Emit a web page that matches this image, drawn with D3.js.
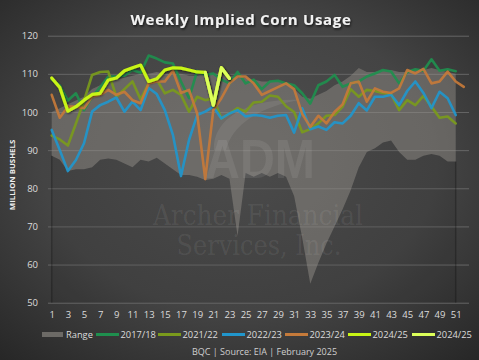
<!DOCTYPE html>
<html><head><meta charset="utf-8">
<script src="https://cdn.jsdelivr.net/npm/d3@7"></script>
<style>html,body{margin:0;padding:0;background:#333;}svg{display:block;}</style>
</head><body>
<svg id="chart" width="479" height="360"></svg>
<script>
// ---- DATA ----
const weeks = d3.range(1, 53);
const xTickLabels = d3.range(1, 52, 2);
const yTickLabels = [50, 60, 70, 80, 90, 100, 110, 120];
const seriesNames = ["Range", "2017/18", "2021/22", "2022/23", "2023/24", "2024/25", "2024/25"];

const rangeMin = [88.5, 87.5, 84.5, 85, 85, 85.5, 87.5, 87.8, 87.5, 86.5, 85.5, 87.5, 87, 88, 86.5, 85, 83.5, 83.5, 83, 82.2, 82.5, 83.5, 82.5, 67.5, 84, 83, 84, 83, 84, 83, 78, 67, 55, 60.5, 65.5, 70, 74.5, 79.5, 85.5, 89.5, 90.5, 92, 92.5, 89.5, 87.5, 87.5, 88.5, 89, 88.5, 87, 87];
const rangeMax = [100, 101, 102, 103, 104, 106, 107, 108, 108.5, 109, 109.5, 110, 110, 110.5, 110, 110, 110, 109.5, 109.5, 110, 110, 110, 109.5, 109, 109, 108.5, 108, 108, 108, 107.5, 106, 104, 103.5, 104.5, 105.5, 107, 108, 109.5, 111.5, 110.5, 110.5, 111, 111, 110.5, 110.5, 111, 111, 111.5, 111, 110.5, 110];

const s2017 = [108.5, 107, 103, 104.9, 100.5, 104, 106.5, 109.3, 109.3, 109.5, 111, 110.3, 114.8, 114, 113, 112.7, 108, 103.6, 110.8, 109.7, 110.1, 108.5, 107.5, 110.5, 107.5, 108.5, 106, 108, 108.2, 107.5, 107, 104.9, 102.2, 107, 108, 109.7, 106.6, 107.5, 108, 109.3, 110.1, 111, 110.6, 107.5, 110.5, 111.2, 110.8, 113.8, 110.8, 111.2, 110.7];
const s2021 = [93.8, 92.8, 91.2, 97, 103, 109.7, 110.5, 110.6, 104, 106, 108, 103.3, 107.5, 108.5, 104.9, 105.8, 104.5, 100.1, 104, 103.1, 103.6, 98.3, 99.6, 101, 100.1, 102.5, 102.7, 104.3, 104, 101.5, 100, 94.7, 95.5, 97, 99, 99.2, 101.4, 106, 104, 105.8, 105.5, 105, 104.7, 100.5, 103.1, 101.8, 104.2, 101.4, 98.5, 98.8, 97];
const s2022 = [95.3, 90, 84.5, 87.4, 91.8, 100.1, 101.8, 102.7, 103.8, 100.1, 102.7, 100.5, 106.3, 104.7, 100.5, 94, 83.2, 92.7, 99.2, 100.1, 101.4, 98.3, 99.6, 100.5, 98.8, 99.2, 99, 98.5, 99, 99.2, 94.6, 101, 95.5, 96.2, 95.3, 97.3, 97, 99, 102.3, 100.4, 104, 104, 104.5, 101.8, 105.5, 108, 105, 101, 105.3, 103.6, 99.2];
const s2023 = [104.5, 98.5, 101.4, 101.4, 101, 104, 104.5, 105.8, 104.5, 105.3, 103.1, 102.3, 107.5, 108, 108, 110.8, 105, 105.8, 99.6, 82.4, 100.5, 103.6, 107.5, 109.3, 109.3, 107.5, 104.5, 105.5, 106.5, 107.5, 106, 99.5, 96.1, 99, 97, 100, 102, 107.5, 108, 102.7, 106.2, 105.3, 105, 106.2, 111, 110.1, 111.3, 107.5, 108, 110.6, 108, 106.6];
const s2024 = [108.9, 106.4, 100.2, 101.4, 103.1, 104.6, 104.9, 108.4, 108.9, 110.8, 111.6, 112.3, 108, 108.7, 111, 111.6, 111.5, 111, 110.5, 110.4, 101.8, 111.6, 108.8];
const s2024b = [null, null, null, null, null, null, null, null, null, null, null, null, null, null, null, null, null, null, null, 110.4, 101.8, 111.6, 108.8];

const colors = ["#6c6a66", "#1f8f4e", "#7a9a1c", "#2196cc", "#c57a3a", "#c8f515", "#dcff5a"];

// ---- CHART ----
const svg = d3.select("#chart");
const W = 479, H = 360;
const defs = svg.append("defs");
const rg = defs.append("radialGradient").attr("id", "bg").attr("cx", "50%").attr("cy", "45%").attr("r", "75%");
rg.append("stop").attr("offset", "0%").attr("stop-color", "#4f4f4f");
rg.append("stop").attr("offset", "55%").attr("stop-color", "#444");
rg.append("stop").attr("offset", "100%").attr("stop-color", "#262626");
const sh = defs.append("filter").attr("id", "shadow").attr("x", "-10%").attr("y", "-30%").attr("width", "120%").attr("height", "160%");
sh.append("feDropShadow").attr("dx", 1).attr("dy", 1.5).attr("stdDeviation", 1).attr("flood-color", "#000").attr("flood-opacity", 0.7);
const lsh = defs.append("filter").attr("id", "lshadow").attr("x", "-5%").attr("y", "-10%").attr("width", "110%").attr("height", "120%");
lsh.append("feDropShadow").attr("dx", 0.8).attr("dy", 1).attr("stdDeviation", 0.8).attr("flood-color", "#000").attr("flood-opacity", 0.6);

svg.append("rect").attr("width", W).attr("height", H).attr("fill", "url(#bg)");

const x = d3.scaleLinear().domain([1, 52]).range([51.7, 463.8]);
const y = d3.scaleLinear().domain([50, 120]).range([302.7, 35.7]);
const gridX0 = 48, gridX1 = 469;

// gridlines
svg.append("g").attr("transform", `translate(${gridX0},0)`)
  .call(d3.axisLeft(y).tickValues(yTickLabels).tickSize(-(gridX1 - gridX0)).tickFormat(""))
  .call(g => g.select(".domain").remove())
  .call(g => g.selectAll("line").attr("stroke", "#666").attr("stroke-width", 1));

// range band (stacked: lower invisible-ish, upper band)
const bandData = rangeMin.map((m, i) => ({ w: i + 1, lo: m, hi: rangeMax[i] }));
svg.append("path").datum(bandData)
  .attr("d", d3.area().x(d => x(d.w)).y0(y(50)).y1(d => y(d.lo)))
  .attr("fill", "#000").attr("fill-opacity", 0.05);
svg.append("path").datum([bandData[0], bandData[bandData.length - 1]])
  .attr("d", d => `M${x(d[0].w)},${y(50)}V${y(d[0].lo)}M${x(d[1].w)},${y(50)}V${y(d[1].lo)}`)
  .attr("stroke", "#000").attr("stroke-opacity", 0.25).attr("stroke-width", 1.5);
svg.append("path").datum(bandData)
  .attr("d", d3.area().x(d => x(d.w)).y0(d => y(d.lo)).y1(d => y(d.hi)))
  .attr("fill", "#9a968e").attr("fill-opacity", 0.42);

// watermark
const wm = svg.append("g").attr("fill", "#ffffff").attr("fill-opacity", 0.08).attr("pointer-events", "none");
wm.append("path").attr("d", "M214,150 C212,118 250,98 300,100 C262,106 232,124 226,150 Z");
wm.append("text").attr("x", 205).attr("y", 178).attr("font-family", "Liberation Sans").attr("font-weight", "bold")
  .attr("font-size", 56).attr("textLength", 110).attr("lengthAdjust", "spacingAndGlyphs").text("ADM");
wm.append("text").attr("x", 318).attr("y", 122).attr("font-family", "Liberation Sans").attr("font-size", 6).text("®");
wm.append("text").attr("x", 258).attr("y", 225).attr("text-anchor", "middle").attr("font-family", "DejaVu Serif")
  .attr("font-size", 27).attr("textLength", 210).attr("lengthAdjust", "spacingAndGlyphs").text("Archer Financial");
wm.append("text").attr("x", 259).attr("y", 255).attr("text-anchor", "middle").attr("font-family", "DejaVu Serif")
  .attr("font-size", 27).attr("textLength", 165).attr("lengthAdjust", "spacingAndGlyphs").text("Services, Inc.");

// lines
const line = d3.line().defined(v => v != null).x((v, i) => x(i + 1)).y(v => y(v));
const lineSeries = [s2017, s2021, s2022, s2023, s2024, s2024b];
lineSeries.forEach((s, k) => {
  const isNew = k >= 4;
  svg.append("path").datum(s).attr("d", line)
    .attr("fill", "none").attr("stroke", colors[k + 1])
    .attr("stroke-width", isNew ? 3.2 : 2.6)
    .attr("stroke-linejoin", "round").attr("stroke-linecap", "round")
    .attr("stroke-opacity", isNew ? 1 : 0.92)
    .attr("filter", isNew ? "url(#lshadow)" : null);
});

// axes labels
const tickFont = "Open Sans";
svg.append("g").attr("transform", `translate(${gridX0},0)`)
  .call(d3.axisLeft(y).tickValues(yTickLabels).tickSize(0).tickPadding(10))
  .call(g => g.select(".domain").remove())
  .call(g => g.selectAll("text").attr("fill", "#dcdcdc").attr("font-family", tickFont).attr("font-size", 9.5));
svg.append("g").attr("transform", `translate(0,${y(50)})`)
  .call(d3.axisBottom(x).tickValues(xTickLabels).tickSize(0).tickPadding(9))
  .call(g => g.select(".domain").remove())
  .call(g => g.selectAll("text").attr("fill", "#dcdcdc").attr("font-family", tickFont).attr("font-size", 9.5));

// y title
svg.append("text").attr("transform", "translate(15,175) rotate(-90)").attr("text-anchor", "middle")
  .attr("fill", "#eeeeee").attr("font-family", "Open Sans").attr("font-weight", "bold").attr("font-size", 7.8)
  .text("MILLION BUSHELS");

// title
svg.append("text").attr("x", 241).attr("y", 25).attr("text-anchor", "middle")
  .attr("fill", "#f2f2f2").attr("font-family", "Open Sans").attr("font-weight", "bold").attr("font-size", 15)
  .attr("letter-spacing", 0.7).attr("filter", "url(#shadow)").text("Weekly Implied Corn Usage");

// legend
const lg = svg.append("g").attr("font-family", "Open Sans").attr("font-size", 9.3).attr("fill", "#dcdcdc");
const legX = [42, 96, 158, 222, 285, 348, 412];
seriesNames.forEach((n, k) => {
  const g = lg.append("g").attr("transform", `translate(${legX[k]},334.5)`);
  if (k === 0) {
    g.append("rect").attr("x", 0).attr("y", -2.5).attr("width", 21).attr("height", 5).attr("fill", colors[0]);
    g.append("text").attr("x", 24).attr("y", 3.3).text(n);
  } else {
    g.append("line").attr("x1", 0).attr("x2", 23).attr("stroke", colors[k]).attr("stroke-width", 3);
    g.append("text").attr("x", 24.5).attr("y", 3.3).text(n);
  }
});

// source
svg.append("text").attr("x", 264.5).attr("y", 355).attr("text-anchor", "middle")
  .attr("fill", "#cfcfcf").attr("font-family", "Open Sans").attr("font-size", 9)
  .text("BQC | Source: EIA | February 2025");
</script>
</body></html>
